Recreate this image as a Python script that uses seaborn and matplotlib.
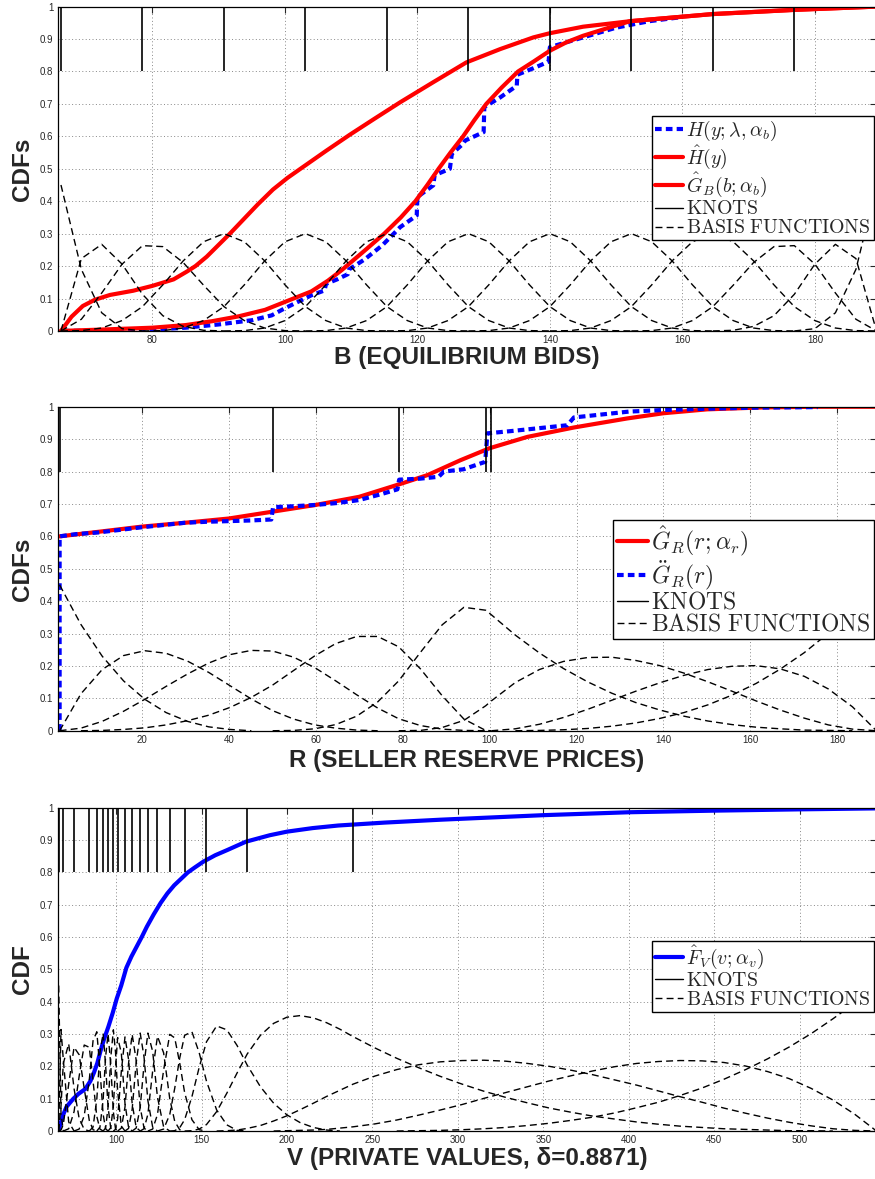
"""Spline CDF estimates with their knots and cubic basis functions, three stacked panels."""
# %% Imports
import numpy as np
import matplotlib
matplotlib.use("Agg")
import matplotlib.pyplot as plt
import seaborn as sns
from matplotlib.lines import Line2D

# %% Data

# panel 1: equilibrium bids
BID_KNOTS = [66.2, 78.5, 90.8, 103.1, 115.4, 127.7, 140.0, 152.3, 164.6, 176.9, 189.3]
BID_SUBDIV = [4] * 10  # basis sampled at quarter steps between knots
BID_BASIS_START = [0, 0, 0, 0, 4, 8, 12, 16, 20, 24, 28, 32, 36]
BID_BASIS = [
    [.45, .19, .056, .007, 0],
    [0, .223, .267, .206, .113, .047, .014, .002, 0],
    [0, .036, .117, .206, .263, .26, .211, .141, .075, .032, .009, .001, 0],
    [0, .001, .009, .032, .075, .142, .216, .275, .3, .275, .216, .142, .075, .032, .009, .001, 0],
    [0, .001, .009, .032, .075, .142, .216, .275, .3, .275, .216, .142, .075, .032, .009, .001, 0],
    [0, .001, .009, .032, .075, .142, .216, .275, .3, .275, .216, .142, .075, .032, .009, .001, 0],
    [0, .001, .009, .032, .075, .142, .216, .275, .3, .275, .216, .142, .075, .032, .009, .001, 0],
    [0, .001, .009, .032, .075, .142, .216, .275, .3, .275, .216, .142, .075, .032, .009, .001, 0],
    [0, .001, .009, .032, .075, .142, .216, .275, .3, .275, .216, .142, .075, .032, .009, .001, 0],
    [0, .001, .009, .032, .075, .142, .216, .275, .3, .275, .216, .142, .075, .032, .009, .001, 0],
    [0, .001, .009, .032, .075, .141, .211, .26, .263, .206, .117, .036, 0],
    [0, .002, .014, .047, .113, .206, .267, .223, 0],
    [0, .007, .056, .19, .45],
]
HHAT_X = [66.2, 67.8, 69.5, 71.3, 73.6, 77.1, 80.0, 83.2, 85.2, 86.5, 88.2, 91.7, 93.8, 95.9, 98.2, 100.4,
          102.7, 106.2, 109.8, 113.5, 117.4, 122.4, 127.4, 132.5, 137.5, 140.0, 145.0, 152.1, 164.6, 177.0, 189.3]
HHAT_Y = [0.0, 0.044, 0.077, 0.096, 0.111, 0.124, 0.139, 0.159, 0.183, 0.2, 0.229, 0.3, 0.345, 0.39, 0.436, 0.472,
          0.505, 0.555, 0.605, 0.654, 0.705, 0.767, 0.828, 0.869, 0.905, 0.918, 0.938, 0.955, 0.977, 0.99, 1.0]
GB_X = [66.2, 72, 80, 85, 89, 93, 97, 101.3, 104, 106.5, 108.6, 112, 115, 117.5, 119.7, 121.5, 123.2, 125,
        126.9, 128.6, 130.4, 132.7, 135.2, 137.5, 140, 142.5, 145, 147.5, 152.1, 164.6, 177.0, 189.3]
GB_Y = [0.0, 0.004, 0.01, 0.018, 0.03, 0.045, 0.065, 0.1, 0.122, 0.155, 0.188, 0.247, 0.3, 0.35, 0.4, 0.45,
        0.5, 0.55, 0.6, 0.65, 0.7, 0.75, 0.8, 0.83, 0.864, 0.89, 0.91, 0.926, 0.955, 0.977, 0.99, 1.0]
H_X = [66.5, 75, 80, 85, 90, 95, 98, 100, 102, 104, 106, 106.2, 108, 109.5, 109.7, 112, 114.7, 117.4, 119.9,
       120.0, 122.4, 122.6, 124.9, 125.2, 126.9, 127.2, 130.0, 130.1, 132.5, 135.0, 135.1, 137.5, 139.8, 140.0,
       142.5, 145, 150, 155, 160]
H_Y = [0.0, 0.002, 0.004, 0.01, 0.02, 0.033, 0.048, 0.07, 0.09, 0.11, 0.125, 0.145, 0.16, 0.175, 0.19, 0.22,
       0.264, 0.32, 0.356, 0.413, 0.449, 0.48, 0.5, 0.546, 0.577, 0.587, 0.613, 0.69, 0.72, 0.756, 0.79, 0.81,
       0.83, 0.875, 0.89, 0.905, 0.935, 0.955, 0.968]

# panel 2: seller reserve prices
RES_KNOTS = [1.1, 50.1, 79.1, 99.1, 100.4, 189.0]
RES_SUBDIV = [10, 6, 4, 1, 16]
RES_BASIS_START = [0, 0, 0, 1, 10, 16, 21, 22]
RES_BASIS = [
    [.45, .328, .23, .154, .097, .056, .029, .012, .004, 0],
    [0, .114, .189, .232, .247, .239, .215, .18, .139, .098, .062, .036, .018, .008, .002, 0],
    [0, .008, .029, .06, .097, .137, .175, .209, .235, .248, .246, .227, .195, .154, .111, .07, .037, .016,
     .005, .001, 0],
    [0, .001, .004, .009, .018, .031, .048, .072, .103, .141, .186, .231, .269, .291, .291, .259, .191, .108,
     .036, .001, 0],
    [0, .001, .006, .019, .045, .089, .154, .242, .327, .381, .372, .358, .295, .24, .192, .151, .116, .087,
     .064, .045, .03, .019, .011, .006, .002, .001, 0],
    [0, .001, .01, .032, .077, .092, .149, .189, .214, .226, .227, .217, .201, .178, .151, .122, .092, .064,
     .039, .018, .005, 0],
    [0, .006, .02, .041, .066, .094, .122, .148, .171, .189, .199, .201, .191, .168, .129, .074, 0],
    [0, .001, .003, .007, .014, .024, .038, .056, .08, .11, .146, .19, .241, .301, .371, .45],
]
GR_X = [1.1, 10, 20, 30, 40, 50, 60, 70, 75, 80, 85.7, 90, 93.3, 100, 108.7, 119.4, 131.7, 140, 150, 163, 175, 189]
GR_Y = [0.6, 0.614, 0.63, 0.642, 0.655, 0.676, 0.697, 0.722, 0.743, 0.764, 0.789, 0.815, 0.835, 0.872, 0.907,
        0.936, 0.964, 0.98, 0.992, 0.998, 1.0, 1.0]
GE_X = [1.1, 1.1, 5, 10, 15, 20, 25, 30, 35, 40, 45, 49.8, 50.2, 55, 60, 65, 70, 75, 78.8, 79.2, 84, 88.3, 89.5,
        94, 99.0, 99.5, 105, 110, 117.9, 119.4, 125, 132, 140, 150, 160, 175.5]
GE_Y = [0.0, 0.6, 0.607, 0.612, 0.62, 0.628, 0.635, 0.642, 0.645, 0.647, 0.649, 0.652, 0.69, 0.693, 0.697, 0.703,
        0.712, 0.73, 0.745, 0.775, 0.778, 0.784, 0.8, 0.807, 0.83, 0.918, 0.925, 0.932, 0.943, 0.967, 0.975, 0.985,
        0.99, 0.994, 0.997, 0.999]

# panel 3: private values
VAL_KNOTS = [66.4, 69.1, 75.4, 84.3, 88.7, 92.4, 95.3, 98.4, 100.9, 105.2, 109.4, 114.1,
             118.6, 124.2, 131.4, 140.1, 152.9, 176.7, 238.7, 545.0]
VAL_SUBDIV = [2, 2, 3, 2, 2, 2, 2, 2, 2, 2, 2, 2, 2, 2, 3, 3, 4, 8, 24]
VAL_BASIS_START = [0, 0, 0, 0, 2, 4, 7, 9, 11, 13, 15, 17, 19, 21, 23, 25, 27, 29, 32, 36, 41, 49]
VAL_BASIS = [
    [.45, .056, 0],
    [0, .314, .221, .028, 0],
    [0, .077, .209, .27, .131, .039, .005, 0],
    [0, .003, .02, .145, .259, .236, .132, .033, .004, 0],
    [0, .007, .06, .169, .266, .259, .155, .045, .006, 0],
    [0, .006, .047, .158, .279, .307, .191, .052, .007, 0],
    [0, .012, .098, .242, .302, .205, .074, .009, 0],
    [0, .012, .096, .229, .301, .206, .059, .007, 0],
    [0, .009, .074, .225, .313, .244, .124, .015, 0],
    [0, .01, .078, .194, .289, .242, .085, .011, 0],
    [0, .005, .038, .184, .291, .221, .085, .011, 0],
    [0, .009, .074, .21, .299, .219, .074, .009, 0],
    [0, .008, .067, .211, .303, .229, .094, .012, 0],
    [0, .009, .073, .206, .303, .246, .105, .013, 0],
    [0, .007, .052, .186, .293, .242, .1, .03, .004, 0],
    [0, .006, .051, .188, .299, .288, .211, .119, .035, .004, 0],
    [0, .006, .051, .132, .225, .296, .307, .242, .154, .065, .019, .002, 0],
    [0, .001, .01, .035, .106, .197, .276, .325, .313, .265, .204, .137, .086, .05, .026, .011, .003, 0],
    [0, .001, .006, .02, .06, .117, .179, .238, .296, .333, .352, .357, .35, .335, .315, .292, .257, .225,
     .196, .169, .145, .123, .104, .087, .071, .058, .046, .037, .028, .021, .015, .011, .007, .005, .003,
     .001, .001, 0],
    [0, .001, .003, .008, .017, .031, .047, .066, .086, .107, .126, .145, .17, .19, .205, .214, .218, .219,
     .216, .209, .2, .188, .174, .158, .142, .124, .106, .089, .071, .055, .04, .027, .016, .007, .002, 0],
    [0, .001, .002, .003, .005, .009, .013, .022, .034, .049, .065, .082, .101, .119, .137, .155, .171, .186,
     .199, .209, .215, .218, .217, .212, .201, .184, .162, .132, .096, .052, 0],
    [0, .001, .002, .004, .007, .011, .017, .024, .033, .043, .056, .072, .089, .11, .133, .16, .19, .223,
     .26, .301, .347, .396, .45],
]
FV_X = [66.2, 69, 71, 75, 78, 82, 85, 87, 89, 91, 93, 95.5, 98, 100.4, 103, 106, 109, 112, 115, 118, 122, 126,
        130, 134, 138, 142, 146, 151, 158, 165, 176, 190, 200, 215, 230, 257, 290, 350, 400, 450, 500, 545]
FV_Y = [0.0, 0.05, 0.075, 0.1, 0.115, 0.13, 0.155, 0.18, 0.21, 0.25, 0.285, 0.323, 0.365, 0.41, 0.45, 0.505,
        0.54, 0.57, 0.6, 0.632, 0.67, 0.705, 0.735, 0.76, 0.78, 0.8, 0.815, 0.833, 0.853, 0.869, 0.895, 0.915,
        0.926, 0.937, 0.945, 0.954, 0.963, 0.977, 0.986, 0.991, 0.995, 0.998]

X_LABELS = ["B (EQUILIBRIUM BIDS)", "R (SELLER RESERVE PRICES)", "V (PRIVATE VALUES, \u03b4=0.8871)"]
Y_LABELS = ["CDFs", "CDFs", "CDF"]
X_TICKS = [list(range(80, 181, 20)), list(range(20, 181, 20)), list(range(100, 501, 50))]
Y_TICKS = [i / 10 for i in range(11)]
Y_TICK_LABELS = ["0", "0.1", "0.2", "0.3", "0.4", "0.5", "0.6", "0.7", "0.8", "0.9", "1"]

# %% Style
RED = "#ff0000"
BLUE = "#0000ff"
DOT = (0, (1.6, 1.0))
DASH = (0, (5, 3))

sns.set_style("white")
plt.rcParams["font.family"] = ["Liberation Sans", "DejaVu Sans"]
plt.rcParams["mathtext.fontset"] = "cm"


# %% Functions


def sample_grid(knots, subdiv):
    """x positions where the basis curves were read: knots plus evenly spaced steps between them"""
    pts = [knots[0]]
    for a, b, n in zip(knots[:-1], knots[1:], subdiv):
        pts += list(np.linspace(a, b, n + 1)[1:])
    return np.array(pts)


def _draw_knots_and_basis(ax, knots, subdiv, starts, basis):
    ax.vlines(knots, 0.8, 1.0, color="k", lw=1.2)
    g = sample_grid(knots, subdiv)
    for s, vals in zip(starts, basis):
        ax.plot(g[s:s + len(vals)], vals, color="k", lw=1.0, ls=DASH)


def _line(ax, x, y, color, ls="-"):
    sns.lineplot(x=x, y=y, sort=False, estimator=None, color=color, lw=3, ls=ls, ax=ax)


# %% Figure
fig = plt.figure(figsize=(8.75, 11.79), dpi=100)
axes_pos = [(0.7193, 0.2751), (0.3802, 0.2748), (0.0407, 0.2742)]
x_limits = [(65.7, 189.3), (0.65, 189.0), (65.8, 545.0)]
xlabel_y = [358, 760, 1158]
ylabel_y = [169, 569, 969]
legend_anchor = [(0.997, 0.663), (0.997, 0.652), (0.997, 0.589)]
legend_size = [14.3, 17.0, 14.3]
legend_handlelength = [1.45, 1.3, 1.45]

for pi in range(3):
    ax = fig.add_axes([0.0659, axes_pos[pi][0], 0.9358, axes_pos[pi][1]])
    if pi == 0:
        _line(ax, H_X, H_Y, BLUE, DOT)
        _line(ax, HHAT_X, HHAT_Y, RED)
        _line(ax, GB_X, GB_Y, RED)
        _draw_knots_and_basis(ax, BID_KNOTS, BID_SUBDIV, BID_BASIS_START, BID_BASIS)
        handles = [Line2D([], [], color=BLUE, lw=3, ls=DOT), Line2D([], [], color=RED, lw=3),
                   Line2D([], [], color=RED, lw=3)]
        labels = [r"$H(y;\lambda,\alpha_b)$", r"$\hat{H}(y)$", r"$\hat{G}_B(b;\alpha_b)$"]
    elif pi == 1:
        _line(ax, GR_X, GR_Y, RED)
        _line(ax, GE_X, GE_Y, BLUE, DOT)
        _draw_knots_and_basis(ax, RES_KNOTS, RES_SUBDIV, RES_BASIS_START, RES_BASIS)
        handles = [Line2D([], [], color=RED, lw=3), Line2D([], [], color=BLUE, lw=3, ls=DOT)]
        labels = [r"$\hat{G}_R(r;\alpha_r)$", r"$\ddot{G}_R(r)$"]
    else:
        _line(ax, FV_X, FV_Y, BLUE)
        _draw_knots_and_basis(ax, VAL_KNOTS, VAL_SUBDIV, VAL_BASIS_START, VAL_BASIS)
        handles = [Line2D([], [], color=BLUE, lw=3)]
        labels = [r"$\hat{F}_V(v;\alpha_v)$"]
    handles += [Line2D([], [], color="k", lw=1.0), Line2D([], [], color="k", lw=1.0, ls=DASH)]
    labels += [r"$\mathrm{KNOTS}$", r"$\mathrm{BASIS\ FUNCTIONS}$"]
    leg = ax.legend(handles, labels, loc="upper right", bbox_to_anchor=legend_anchor[pi], borderaxespad=0,
                    fontsize=legend_size[pi], frameon=True, fancybox=False, framealpha=1, edgecolor="k",
                    borderpad=0.15, labelspacing=0.0, handlelength=legend_handlelength[pi],
                    handletextpad=0.15)
    leg.get_frame().set_linewidth(1.0)

    ax.set_xlim(*x_limits[pi])
    ax.set_ylim(0, 1)
    ax.set_xticks(X_TICKS[pi])
    ax.set_yticks(Y_TICKS)
    ax.set_yticklabels(Y_TICK_LABELS)
    ax.grid(True, color="#888888", lw=0.7, ls=(0, (1, 2.5)))
    ax.tick_params(direction="in", top=True, right=True, length=4, width=0.8, labelsize=7, pad=3)
    for sp in ax.spines.values():
        sp.set_color("k")
        sp.set_linewidth(0.9)
    ax.set_xlabel("")
    ax.set_ylabel("")
    fig.text(467 / 875, 1 - xlabel_y[pi] / 1179, X_LABELS[pi], ha="center", va="center", fontsize=17.5,
             fontweight="bold")
    fig.text(22 / 875, 1 - ylabel_y[pi] / 1179, Y_LABELS[pi], ha="center", va="center", rotation=90,
             fontsize=17.5, fontweight="bold")

fig.savefig("out.png", dpi=100)
